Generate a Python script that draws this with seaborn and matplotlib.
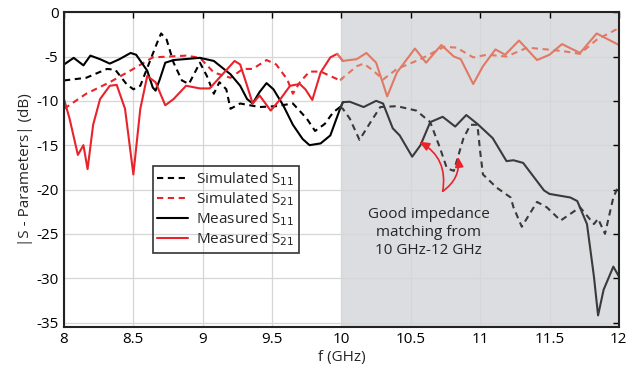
import numpy as np
import pandas as pd
import matplotlib
matplotlib.use("Agg")
import matplotlib.pyplot as plt
import seaborn as sns

# ---- data ----
meas_s11_f = [8.00, 8.07, 8.14, 8.19, 8.26, 8.33, 8.40, 8.48, 8.52, 8.60, 8.64, 8.66, 8.69, 8.73, 8.79,
              8.98, 9.08, 9.20, 9.27, 9.32, 9.36, 9.41, 9.46, 9.51, 9.58, 9.65, 9.72, 9.77, 9.85, 9.92, 9.99,
              10.01, 10.06, 10.16, 10.25, 10.30, 10.37, 10.42, 10.51, 10.57, 10.64, 10.73, 10.82, 10.90,
              10.98, 11.09, 11.19, 11.24, 11.31, 11.46, 11.50, 11.65, 11.70, 11.77, 11.82, 11.85, 11.89,
              11.96, 12.00]
meas_s11_db = [-5.9, -5.15, -6.0, -4.9, -5.3, -5.8, -5.3, -4.6, -4.8, -6.6, -8.5, -8.85, -7.6, -5.7, -5.4,
               -5.15, -5.5, -7.0, -8.3, -9.8, -10.3, -9.0, -8.0, -8.7, -10.5, -12.7, -14.3, -15.0, -14.8, -13.9, -10.9,
               -10.15, -10.1, -10.7, -10.0, -10.3, -13.1, -13.9, -16.3, -15.0, -12.4, -11.8, -12.9, -11.6,
               -12.6, -14.2, -16.8, -16.7, -17.0, -20.1, -20.5, -20.9, -21.3, -23.9, -29.8, -34.2, -31.3,
               -28.7, -29.8]

sim_s11_f = [8.00, 8.16, 8.31, 8.37, 8.45, 8.50, 8.55, 8.61, 8.67, 8.70, 8.74, 8.79, 8.85, 8.90, 8.98,
             9.03, 9.08, 9.12, 9.17, 9.20, 9.27, 9.41, 9.53, 9.65, 9.75, 9.81, 9.88, 9.94, 9.99,
             10.01, 10.06, 10.13, 10.21, 10.28, 10.40, 10.54, 10.64, 10.71, 10.76, 10.81, 10.88, 10.93,
             10.98, 11.00, 11.02, 11.12, 11.22, 11.24, 11.30, 11.41, 11.48, 11.58, 11.72, 11.82, 11.85,
             11.90, 11.96, 12.00]
sim_s11_db = [-7.7, -7.4, -6.4, -6.5, -8.1, -8.7, -8.3, -5.9, -3.5, -2.4, -3.1, -5.7, -7.7, -8.1, -5.7,
              -7.2, -9.2, -7.9, -8.7, -10.9, -10.3, -10.7, -10.6, -10.3, -12.0, -13.4, -12.6, -11.3, -10.7,
              -10.9, -12.0, -14.4, -12.4, -10.7, -10.6, -11.1, -12.4, -15.3, -17.6, -17.9, -14.2, -12.7,
              -12.7, -15.7, -18.3, -19.8, -20.9, -22.0, -24.2, -21.4, -22.0, -23.5, -22.0, -23.9, -23.3,
              -25.0, -20.9, -19.5]

meas_s21_f = [8.00, 8.04, 8.10, 8.14, 8.17, 8.21, 8.26, 8.33, 8.38, 8.44, 8.50, 8.55, 8.60, 8.66, 8.73,
              8.79, 8.88, 8.98, 9.05, 9.12, 9.23, 9.27, 9.32, 9.36, 9.41, 9.49, 9.56, 9.63, 9.70, 9.74,
              9.79, 9.85, 9.92, 9.97,
              10.01, 10.11, 10.18, 10.25, 10.33, 10.40, 10.53, 10.61, 10.72, 10.81, 10.86, 10.95, 11.02,
              11.11, 11.18, 11.28, 11.41, 11.50, 11.59, 11.72, 11.84, 12.00]
meas_s21_db = [-9.8, -12.0, -16.1, -15.0, -17.7, -12.7, -9.8, -8.3, -8.2, -10.9, -18.3, -10.9, -7.2, -7.9, -10.5,
               -9.8, -8.3, -8.6, -8.6, -7.4, -5.5, -5.9, -8.3, -10.3, -9.4, -11.1, -9.8, -8.3, -8.1, -8.7,
               -9.9, -6.8, -5.1, -4.7,
               -5.5, -5.3, -4.6, -5.7, -9.5, -6.8, -4.1, -5.7, -3.7, -5.0, -5.3, -8.1, -6.1,
               -4.2, -4.8, -3.2, -5.4, -4.8, -3.6, -4.6, -2.4, -3.7]

sim_s21_f = [8.00, 8.16, 8.33, 8.50, 8.64, 8.88, 8.98, 9.08, 9.20, 9.29, 9.36, 9.46, 9.53, 9.61, 9.65,
             9.70, 9.77, 9.85, 9.92, 9.99,
             10.01, 10.11, 10.16, 10.23, 10.30, 10.40, 10.57, 10.74, 10.83, 10.95, 11.05, 11.19, 11.34,
             11.48, 11.60, 11.72, 11.84, 12.00]
sim_s21_db = [-10.9, -9.2, -7.9, -6.4, -5.1, -4.9, -5.15, -6.8, -7.4, -6.4, -6.4, -5.4, -5.9, -7.6, -9.2,
              -7.9, -6.7, -6.7, -7.2, -7.7,
              -7.4, -6.1, -5.8, -6.6, -7.6, -6.4, -5.3, -3.9, -4.0, -5.1, -4.8, -5.0, -4.0,
              -4.2, -4.4, -4.7, -3.1, -1.8]

x_ticks = [8, 8.5, 9, 9.5, 10, 10.5, 11, 11.5, 12]
x_tick_labels = ["8", "8.5", "9", "9.5", "10", "10.5", "11", "11.5", "12"]
y_ticks = [0, -5, -10, -15, -20, -25, -30, -35]
y_tick_labels = ["0", "-5", "-10", "-15", "-20", "-25", "-30", "-35"]

series = [
    ("Simulated S$_{11}$", sim_s11_f, sim_s11_db, "#000000", "#3a3a3a", (0, (3, 2.2))),
    ("Simulated S$_{21}$", sim_s21_f, sim_s21_db, "#e8232b", "#e07a65", (0, (3, 2.2))),
    ("Measured S$_{11}$", meas_s11_f, meas_s11_db, "#000000", "#3a3a3a", "-"),
    ("Measured S$_{21}$", meas_s21_f, meas_s21_db, "#e8232b", "#e07a65", "-"),
]

sns.set_style("white")
plt.rcParams["font.family"] = ["Open Sans", "DejaVu Sans"]

fig = plt.figure(figsize=(6.4, 3.69), dpi=100)
ax = fig.add_axes([0.1, 0.114, 0.867, 0.853])

ax.axvspan(10, 12, color="#dcdde0", zorder=0.3, lw=0)
ax.set_axisbelow(True)
ax.grid(True, color="#d6d6d6", lw=0.9)

for label, f, db, c_left, c_right, ls in series:
    df = pd.DataFrame({"f": f, "db": db})
    left = df[df["f"] <= 10.01]
    right = df[df["f"] >= 9.97]
    sns.lineplot(data=left, x="f", y="db", ax=ax, color=c_left, lw=1.5,
                 linestyle=ls, sort=False, label=label, zorder=3)
    sns.lineplot(data=right, x="f", y="db", ax=ax, color=c_right, lw=1.5,
                 linestyle=ls, sort=False, zorder=3)

ax.set_xlim(8, 12)
ax.set_ylim(-35.5, 0)
ax.set_xticks(x_ticks)
ax.set_xticklabels(x_tick_labels)
ax.set_yticks(y_ticks)
ax.set_yticklabels(y_tick_labels)
ax.tick_params(direction="in", length=4, width=1, top=True, right=True,
               labelsize=11, pad=4, colors="#000000")
for s in ax.spines.values():
    s.set_color("#222222")
    s.set_linewidth(1.5)
    s.set_zorder(4)

ax.set_xlabel("f (GHz)", fontsize=11, labelpad=2)
ax.set_ylabel("|S - Parameters| (dB)", fontsize=11, labelpad=2)

# legend
h, l = ax.get_legend_handles_labels()
leg = ax.legend(h, l, loc="upper left", bbox_to_anchor=(0.16, 0.512), borderaxespad=0,
                fontsize=11, handlelength=2.0, handletextpad=0.5, labelspacing=0.15,
                borderpad=0.3, frameon=True, fancybox=False)
leg.get_frame().set_facecolor("none")
leg.get_frame().set_edgecolor("#333333")
leg.get_frame().set_linewidth(1.2)
leg.get_frame().set_alpha(None)

# annotation
ax.text(10.63, -22.0, "Good impedance\nmatching from\n10 GHz-12 GHz", ha="center", va="top",
        fontsize=11, linespacing=1.25, zorder=5)
ax.annotate("", xy=(10.56, -14.6), xytext=(10.73, -20.2),
            arrowprops=dict(arrowstyle="-|>,head_length=0.6,head_width=0.25", color="#e8232b",
                            lw=1.2, connectionstyle="arc3,rad=0.35", shrinkA=0, shrinkB=0), zorder=5)
ax.annotate("", xy=(10.84, -16.3), xytext=(10.73, -20.2),
            arrowprops=dict(arrowstyle="-|>,head_length=0.6,head_width=0.25", color="#e8232b",
                            lw=1.2, connectionstyle="arc3,rad=0.3", shrinkA=0, shrinkB=0), zorder=5)

fig.savefig("out.png", dpi=100)
